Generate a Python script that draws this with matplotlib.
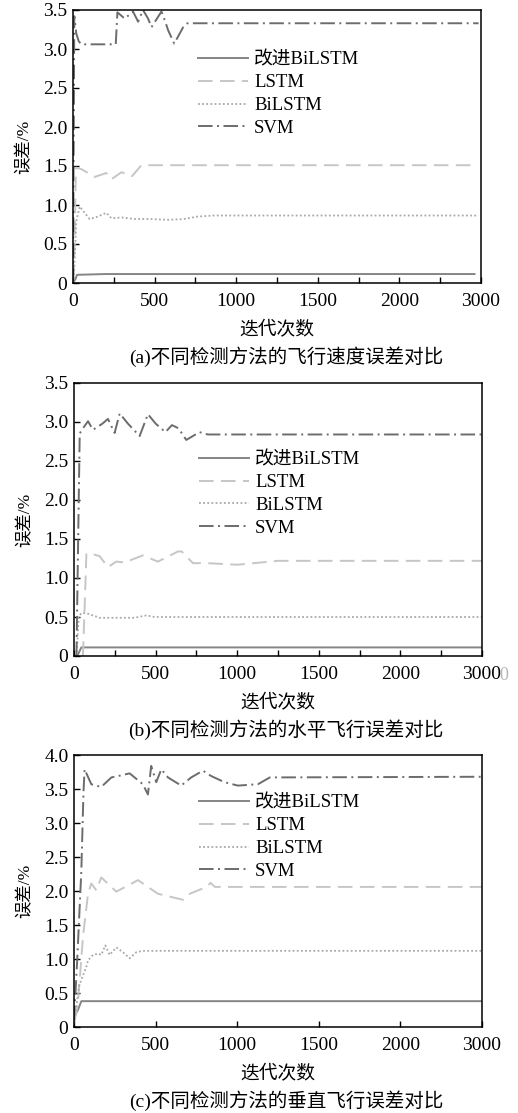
import matplotlib
matplotlib.use("Agg")
import matplotlib.pyplot as plt
from matplotlib.ticker import MultipleLocator

plt.rcParams['font.family'] = ['Liberation Serif', 'Noto Sans CJK SC']

# x ticks as printed in the source figure (last label reads 3000)
X_TICKS = [0, 500, 1000, 1500, 2000, 2500]
X_TICK_LABELS = ['0', '500', '1000', '1500', '2000', '3000']
LEGEND_LABELS = ['改进BiLSTM', 'LSTM', 'BiLSTM', 'SVM']
Y_LABEL = '误差/%'
X_LABEL = '迭代次数'
CAPTIONS = ['(a)不同检测方法的飞行速度误差对比',
            '(b)不同检测方法的水平飞行误差对比',
            '(c)不同检测方法的垂直飞行误差对比']

# (a) flight speed error
A_IMP_X = [0, 15, 25, 200, 2460]
A_IMP_Y = [0.0, 0.05, 0.105, 0.115, 0.115]
A_LSTM_X = [5, 18, 51, 133, 204, 235, 297, 362, 419, 2460]
A_LSTM_Y = [0.05, 1.48, 1.46, 1.36, 1.41, 1.33, 1.42, 1.37, 1.51, 1.51]
A_BI_X = [5, 20, 41, 102, 150, 204, 235, 300, 378, 480, 583, 680, 757, 860, 2485]
A_BI_Y = [0.05, 0.79, 0.98, 0.82, 0.85, 0.90, 0.83, 0.84, 0.82, 0.82, 0.81, 0.82, 0.85, 0.865, 0.865]
A_SVM_X = [0, 8, 20, 35, 50, 262, 272, 317, 368, 399, 429, 460, 481, 542, 562, 583, 620, 644, 675, 701, 2485]
A_SVM_Y = [0.0, 3.42, 3.2, 3.1, 3.06, 3.06, 3.47, 3.39, 3.48, 3.35, 3.5, 3.39, 3.28, 3.48, 3.37, 3.24, 3.07, 3.16, 3.28, 3.33, 3.33]

# (b) horizontal flight error
B_IMP_X = [20, 45, 2500]
B_IMP_Y = [0.0, 0.11, 0.11]
B_LSTM_X = [55, 76, 90, 157, 208, 259, 310, 422, 514, 637, 660, 729, 820, 1000, 1100, 1250, 2500]
B_LSTM_Y = [0.0, 1.31, 1.32, 1.28, 1.14, 1.21, 1.2, 1.29, 1.21, 1.34, 1.34, 1.19, 1.19, 1.17, 1.19, 1.22, 1.22]
B_BI_X = [15, 29, 45, 76, 157, 371, 443, 494, 2500]
B_BI_Y = [0.0, 0.5, 0.55, 0.55, 0.49, 0.49, 0.52, 0.5, 0.5]
B_SVM_X = [15, 35, 45, 86, 116, 175, 208, 249, 280, 330, 402, 453, 500, 560, 600, 640, 688, 769, 820, 2500]
B_SVM_Y = [0.0, 2.85, 2.89, 3.01, 2.9, 2.98, 3.04, 2.86, 3.11, 2.98, 2.82, 3.1, 2.98, 2.87, 2.96, 2.92, 2.77, 2.87, 2.84, 2.84]

# (c) vertical flight error
C_IMP_X = [0, 4, 24, 45, 2500]
C_IMP_Y = [0.05, 0.16, 0.25, 0.38, 0.38]
C_LSTM_X = [5, 24, 55, 86, 106, 137, 167, 259, 392, 514, 669, 710, 812, 837, 863, 2500]
C_LSTM_Y = [0.1, 0.35, 1.33, 1.96, 2.11, 2.01, 2.2, 1.99, 2.16, 1.96, 1.87, 1.96, 2.06, 2.12, 2.06, 2.06]
C_BI_X = [0, 15, 30, 76, 86, 116, 147, 167, 192, 218, 259, 300, 341, 382, 422, 2500]
C_BI_Y = [0.05, 0.3, 0.6, 0.89, 0.98, 1.06, 1.08, 1.06, 1.2, 1.06, 1.17, 1.1, 1.01, 1.1, 1.12, 1.12]
C_SVM_X = [0, 20, 45, 58, 65, 106, 167, 229, 269, 341, 422, 453, 473, 504, 535, 576, 657, 718, 790, 841, 922, 1004, 1127, 1200, 2500]
C_SVM_Y = [0.1, 1.0, 2.3, 3.45, 3.79, 3.57, 3.53, 3.67, 3.69, 3.73, 3.57, 3.42, 3.84, 3.6, 3.79, 3.67, 3.55, 3.67, 3.77, 3.69, 3.6, 3.55, 3.57, 3.67, 3.68]

STYLES = [
    dict(color='#858585', lw=1.4, ls='-'),
    dict(color='#c6c6c6', lw=1.4, ls=(0, (7.5, 3.8))),
    dict(color='#a8a8a8', lw=1.3, ls=(0, (1, 1.3))),
    dict(color='#6c6c6c', lw=1.4, ls=(0, (7.5, 2.3, 1, 2.3))),
]

W, H = 518, 1113
fig = plt.figure(figsize=(W / 100, H / 100), dpi=100)


def draw_panel(rect, series, ymax, legend_top, caption, minor):
    """rect in pixels: left, top, right, bottom"""
    l, t, r, b = rect
    ax = fig.add_axes([l / W, 1 - b / H, (r - l) / W, (b - t) / H])
    for (xs, ys), label, st in zip(series, LEGEND_LABELS, STYLES):
        ax.plot(xs, ys, label=label, color=st['color'], lw=st['lw'], linestyle=st['ls'])
    ax.set_xlim(0, 2500)
    ax.set_ylim(0, ymax)
    ax.set_xticks(X_TICKS)
    ax.set_xticklabels(X_TICK_LABELS)
    yt = [i * 0.5 for i in range(int(ymax / 0.5) + 1)]
    ax.set_yticks(yt)
    ax.set_yticklabels(['0'] + ['%.1f' % v for v in yt[1:]])
    if minor:
        ax.xaxis.set_minor_locator(MultipleLocator(250))
    ax.tick_params(which='both', direction='in', length=4, width=1.0, labelsize=14)
    ax.tick_params(axis='x', pad=7)
    ax.tick_params(axis='y', pad=4)
    for s in ax.spines.values():
        s.set_linewidth(1.1)
    ax.set_xlabel(X_LABEL, fontsize=13.5)
    ax.xaxis.set_label_coords(0.5, -0.14)
    ax.set_ylabel(Y_LABEL, fontsize=12.5)
    ax.yaxis.set_label_coords(-0.10, 0.5)
    ax.legend(frameon=False, loc='upper left', bbox_to_anchor=(0.306, legend_top),
              borderpad=0, borderaxespad=0, handlelength=2.7, handletextpad=0.3,
              labelspacing=0.3, fontsize=13.5)
    fig.text(286 / W, 1 - (b + 74) / H, caption, ha='center', va='center', fontsize=14)
    return ax


draw_panel((73, 10, 481, 283),
           [(A_IMP_X, A_IMP_Y), (A_LSTM_X, A_LSTM_Y), (A_BI_X, A_BI_Y), (A_SVM_X, A_SVM_Y)],
           3.5, 0.848, CAPTIONS[0], True)
draw_panel((74, 383, 482, 656),
           [(B_IMP_X, B_IMP_Y), (B_LSTM_X, B_LSTM_Y), (B_BI_X, B_BI_Y), (B_SVM_X, B_SVM_Y)],
           3.5, 0.75, CAPTIONS[1], True)
draw_panel((74, 755, 482, 1027),
           [(C_IMP_X, C_IMP_Y), (C_LSTM_X, C_LSTM_Y), (C_BI_X, C_BI_Y), (C_SVM_X, C_SVM_Y)],
           4.0, 0.855, CAPTIONS[2], False)

# faint stray digit next to the last tick label of panel (b)
fig.text(504 / W, 1 - 675 / H, '0', color='#b5b5b5', ha='center', va='center', fontsize=13)

fig.savefig('out.png', dpi=100)
